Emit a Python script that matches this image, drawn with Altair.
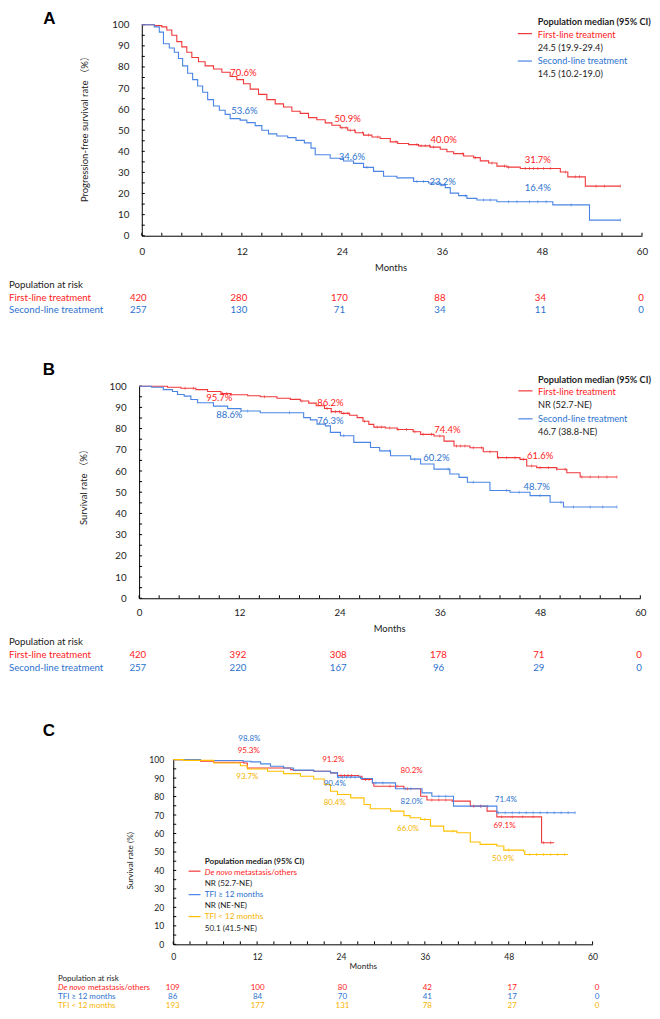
import altair as alt
import pandas as pd

# ------------------------------------------------------------------
# DATA
# ------------------------------------------------------------------
MONTH_TICKS = [0, 12, 24, 36, 48, 60]
PCT_TICKS = [0, 10, 20, 30, 40, 50, 60, 70, 80, 90, 100]
RISK_MONTHS = [0, 12, 24, 36, 48, 60]

# Panel A : progression-free survival
A_first_t = [0, 1.5, 2.4, 3.0, 3.6, 4.2, 4.8, 5.4, 6.0, 6.8, 7.6, 8.6, 9.6, 10.6, 11.4, 12.2, 13.0, 14.0, 15.0, 16.0,
             17.0, 18.0, 19.0, 20.0, 21.0, 22.0, 22.8, 23.8, 24.7, 25.6, 26.6, 27.6, 28.6, 29.8, 30.7, 32.0, 33.2, 34.6,
             35.8, 36.6, 37.4, 38.6, 39.8, 40.6, 41.6, 42.6, 43.8, 45.4, 50.2, 51.1, 53.2, 57.4]
A_first_s = [100, 99.6, 99.0, 97.5, 95.0, 92.0, 89.5, 87.0, 84.5, 82.5, 80.5, 79.0, 77.5, 75.5, 74.0, 72.0, 69.5, 67.0,
             64.5, 62.5, 61.0, 59.0, 58.0, 56.0, 55.0, 53.5, 52.4, 51.2, 50.0, 48.8, 47.7, 46.8, 46.1, 44.5, 43.7, 43.2,
             42.6, 42.0, 41.0, 39.8, 38.9, 37.8, 37.0, 35.5, 34.5, 33.0, 32.5, 31.9, 30.2, 27.9, 23.5, 23.5]
A_second_t = [0, 1.5, 2.1, 2.6, 3.3, 3.9, 4.4, 4.9, 5.5, 6.1, 6.7, 7.3, 7.9, 8.6, 9.3, 10.0, 10.6, 11.8, 12.6, 13.6,
              14.4, 15.2, 16.2, 17.5, 18.5, 19.5, 20.3, 20.8, 22.6, 24.2, 25.4, 26.6, 27.8, 29.0, 30.6, 32.6, 34.4,
              35.8, 36.4, 37.0, 38.0, 39.0, 40.2, 42.6, 49.3, 53.7, 57.4]
A_second_s = [100, 99.0, 96.5, 91.0, 89.0, 87.0, 84.0, 80.5, 77.0, 74.0, 71.0, 68.0, 64.5, 61.5, 59.5, 57.5, 55.5, 54.8,
              53.6, 52.2, 50.0, 48.3, 47.3, 46.5, 45.2, 44.0, 41.5, 38.4, 36.7, 35.4, 34.3, 32.4, 30.5, 28.2, 27.4,
              25.7, 25.0, 24.0, 22.8, 20.2, 19.0, 17.7, 16.9, 16.1, 14.6, 7.4, 7.4]
A_first_cens = [24.0, 24.5, 25.0, 25.5, 26.5, 27.2, 28.3, 30.5, 33.0, 33.5, 34.0, 34.5, 35.0, 38.5, 40.0, 42.0, 43.5,
                44.0, 46.0, 46.5, 47.0, 47.5, 48.2, 49.0, 50.8, 52.0, 52.5, 54.5, 55.5, 57.4]
A_second_cens = [27.0, 33.0, 33.8, 36.0, 38.8, 41.0, 41.8, 44.0, 45.0, 46.5, 47.5, 48.5, 51.5, 57.4]
A_pct_text = ["70.6%", "53.6%", "50.9%", "34.6%", "40.0%", "23.2%", "31.7%", "16.4%"]
A_pct_series = [0, 1, 0, 1, 0, 1, 0, 1]
A_median = ["24.5 (19.9-29.4)", "14.5 (10.2-19.0)"]
A_names = ["First-line treatment", "Second-line treatment"]
A_risk_first = [420, 280, 170, 88, 34, 0]
A_risk_second = [257, 130, 71, 34, 11, 0]

# Panel B : overall survival
B_first_t = [0, 3.4, 5.0, 6.8, 8.2, 9.8, 11.0, 13.0, 14.5, 16.5, 18.1, 19.3, 20.3, 21.2, 22.2, 23.0, 24.2, 25.2, 26.1,
             26.8, 27.5, 28.1, 29.5, 30.9, 32.8, 33.7, 35.3, 36.5, 37.7, 39.6, 41.2, 42.9, 45.6, 46.4, 47.6, 50.0,
             51.2, 52.8, 57.2]
B_first_s = [100, 99.5, 99.0, 98.4, 97.5, 96.5, 96.0, 95.5, 95.0, 94.3, 93.8, 93.0, 92.0, 90.8, 89.5, 88.0, 87.2, 86.3,
             85.2, 83.5, 82.0, 80.7, 80.3, 79.6, 78.5, 77.3, 76.5, 74.1, 71.8, 71.0, 69.1, 66.3, 65.5, 62.4, 61.6,
             60.8, 59.2, 57.2, 57.2]
B_second_t = [0, 1.5, 2.9, 4.0, 4.6, 5.4, 6.2, 7.0, 8.9, 10.6, 12.2, 14.5, 18.5, 19.7, 20.5, 21.3, 22.3, 22.9, 24.1,
              25.7, 27.7, 28.8, 30.1, 32.5, 33.7, 35.3, 37.2, 38.3, 39.3, 42.0, 44.4, 46.8, 49.2, 50.8, 57.2]
B_second_s = [100, 99.5, 98.4, 97.5, 96.1, 95.3, 93.7, 92.2, 90.6, 89.4, 88.3, 87.5, 87.5, 85.2, 84.1, 82.1, 81.3,
              78.2, 76.6, 73.5, 71.1, 69.5, 67.2, 65.6, 63.3, 60.9, 58.6, 57.0, 54.7, 50.8, 50.0, 48.4, 45.3, 43.0, 43.0]
B_first_cens = [5.5, 6.5, 10.0, 10.5, 11.0, 15.0, 19.5, 22.5, 23.0, 23.5, 24.0, 24.5, 25.0, 27.0, 28.5, 29.0, 30.0,
                31.0, 32.0, 33.0, 34.0, 35.0, 36.0, 38.0, 38.5, 39.0, 40.0, 41.0, 42.0, 43.0, 44.0, 45.0, 46.0, 47.0,
                48.0, 49.0, 50.0, 51.0, 53.0, 54.0, 55.0, 56.0, 57.2]
B_second_cens = [13.0, 18.0, 24.5, 30.0, 33.0, 37.0, 40.0, 44.0, 45.5, 48.0, 50.5, 52.0, 54.0, 55.5, 57.2]
B_pct_text = ["95.7%", "88.6%", "86.2%", "76.3%", "74.4%", "60.2%", "61.6%", "48.7%"]
B_pct_series = [0, 1, 0, 1, 0, 1, 0, 1]
B_median = ["NR (52.7-NE)", "46.7 (38.8-NE)"]
B_risk_first = [420, 392, 308, 178, 71, 0]
B_risk_second = [257, 220, 167, 96, 29, 0]

# Panel C : overall survival by subgroup
C_names = ["De novo metastasis/others", "TFI \u2265 12 months", "TFI < 12 months"]
C_denovo_t = [0, 3.9, 5.8, 10.1, 10.6, 16.8, 17.2, 20.1, 22.5, 23.5, 26.5, 27.0, 28.5, 28.7, 33.0, 35.4, 36.3, 39.9,
              42.5, 44.9, 46.3, 52.7, 54.5]
C_denovo_s = [100, 99.1, 98.6, 98.2, 95.5, 94.6, 94.1, 93.7, 92.8, 91.4, 91.0, 89.2, 87.4, 85.6, 84.2, 80.2, 78.1,
              77.5, 74.8, 72.1, 69.0, 55.0, 55.0]
C_tfi_ge_t = [0, 3.9, 10.0, 11.1, 12.5, 13.9, 15.8, 17.2, 20.1, 22.5, 23.5, 26.8, 28.5, 31.8, 35.6, 37.0, 40.1, 46.3, 57.5]
C_tfi_ge_s = [100, 99.5, 99.1, 98.8, 97.7, 96.4, 95.5, 94.3, 93.7, 92.8, 90.5, 89.8, 87.4, 84.2, 82.0, 80.2, 74.8,
              71.2, 71.2]
C_tfi_lt_t = [0, 1.5, 5.8, 9.6, 10.6, 13.5, 15.8, 18.2, 20.1, 21.6, 22.5, 23.5, 25.4, 27.3, 28.2, 31.1, 33.0, 33.9,
              35.4, 36.8, 38.7, 40.6, 42.5, 43.9, 46.3, 47.3, 50.1, 50.3, 56.5]
C_tfi_lt_s = [100, 99.6, 98.2, 96.7, 94.9, 93.7, 92.4, 91.0, 89.5, 86.5, 82.9, 81.1, 79.3, 75.7, 73.4, 72.1, 69.7,
              68.5, 67.6, 64.0, 61.3, 60.4, 55.4, 54.1, 53.2, 51.0, 50.5, 48.6, 48.6]
C_denovo_cens = [24.0, 24.5, 25.0, 25.5, 27.5, 28.0, 31.0, 32.0, 33.5, 37.0, 38.0, 39.0, 43.0, 44.0, 47.0, 48.5, 50.0,
                 51.5, 53.0, 54.0]
C_tfi_ge_cens = [23.6, 24.2, 24.8, 25.4, 26.0, 27.0, 29.0, 30.0, 33.2, 34.0, 38.0, 39.0, 44.0, 45.0, 46.5, 47.5, 48.5,
                 49.5, 50.5, 51.5, 52.5, 53.5, 54.5, 55.5, 56.5, 57.5]
C_tfi_lt_cens = [36.0, 40.0, 48.0, 51.0, 52.0, 53.0, 54.0, 55.0, 56.0]
C_pct_text = ["98.8%", "95.3%", "93.7%", "91.2%", "90.4%", "80.4%", "80.2%", "82.0%", "66.0%", "71.4%", "69.1%",
              "50.9%"]
C_pct_series = [1, 0, 2, 0, 1, 2, 0, 1, 2, 1, 0, 2]
C_median = ["NR (52.7-NE)", "NR (NE-NE)", "50.1 (41.5-NE)"]
C_risk_denovo = [109, 100, 80, 42, 17, 0]
C_risk_tfi_ge = [86, 84, 70, 41, 17, 0]
C_risk_tfi_lt = [193, 177, 131, 78, 27, 0]

# ------------------------------------------------------------------
# STYLE / LAYOUT
# ------------------------------------------------------------------
FONT = "Lato, 'Noto Sans CJK SC', sans-serif"
LETTER_FONT = "'Liberation Sans', Arial, sans-serif"
DARK = "#1c1c1c"
RED_LINE, RED_TEXT = "#F0393B", "#FF1A1A"
BLUE_LINE, BLUE_TEXT = "#4A85E3", "#2C72CE"
GOLD_LINE, GOLD_TEXT = "#FFC000", "#F5B400"

# label positions (months, % units)
A_pct_x = [12.2, 12.3, 24.7, 25.2, 36.2, 36.1, 47.5, 47.5]
A_pct_y = [77.1, 59.1, 55.4, 37.4, 45.5, 25.6, 36.0, 22.7]
B_pct_x = [9.6, 10.8, 22.9, 22.9, 36.9, 35.6, 48.0, 47.6]
B_pct_y = [94.2, 86.3, 92.2, 83.5, 79.4, 66.2, 67.2, 52.6]
C_pct_x = [10.9, 10.8, 10.6, 22.9, 23.1, 23.1, 34.1, 34.1, 33.6, 47.6, 47.4, 47.2]
C_pct_y = [111.2, 104.7, 90.6, 100.0, 86.9, 76.6, 93.9, 77.1, 62.5, 78.2, 64.2, 46.3]


def step_at(ts, ss, t):
    v = ss[0]
    for a, b in zip(ts, ss):
        if a <= t:
            v = b
    return v


def km_panel(P):
    ox, w, h = P["ox"], P["w"], P["h"]
    xs = alt.Scale(domain=[0, 60], range=[ox, ox + w], nice=False, zero=False)
    ys = alt.Scale(domain=[0, 100], nice=False, zero=False)
    common = dict(ticks=False, tickSize=0, grid=False, domainColor="#000000", domainWidth=1,
                  labelFont=FONT, labelFontSize=P["tick_fs"], labelColor=DARK,
                  labelFlush=False, labelOverlap=False, labelBound=False, title=None)
    ax = alt.Axis(values=MONTH_TICKS, labelPadding=P["xlab_pad"], **common)
    ay = alt.Axis(values=PCT_TICKS, labelPadding=P["ylab_pad"], offset=-ox, **common)

    def X(f):
        return alt.X(f, type="quantitative", scale=xs, axis=ax)

    def Y(f):
        return alt.Y(f, type="quantitative", scale=ys, axis=ay)

    col = alt.Color("col:N", scale=None)

    rows, cens = [], []
    for name, ts, ss, c, cz in P["curves"]:
        for t, s in zip(ts, ss):
            rows.append({"grp": name, "month": t, "surv": s, "col": c})
        for t in cz:
            cens.append({"grp": name, "month": t, "surv": step_at(ts, ss, t), "col": c})
    curves = alt.Chart(pd.DataFrame(rows)).mark_line(interpolate="step-after", strokeWidth=1.1).encode(
        x=X("month"), y=Y("surv"), color=col, detail="grp:N")
    censor = alt.Chart(pd.DataFrame(cens)).mark_tick(orient="vertical", size=3, thickness=0.9).encode(
        x=X("month"), y=Y("surv"), color=col)

    trows = [{"x": i * 2.4, "x2": i * 2.4, "y": 0, "y2": P["xtick_len"]} for i in range(26)]
    trows += [{"x": 0, "x2": P["ytick_len"], "y": v, "y2": v} for v in range(0, 101, 5)]
    ticks = alt.Chart(pd.DataFrame(trows)).mark_rule(color="#000000", strokeWidth=1).encode(
        x=X("x"), x2="x2:Q", y=Y("y"), y2="y2:Q")

    pdf = pd.DataFrame({"month": P["pct_x"], "surv": P["pct_y"], "txt": P["pct_text"],
                        "col": [P["text_colors"][i] for i in P["pct_series"]]})
    pct = alt.Chart(pdf).mark_text(font=FONT, fontSize=P["pct_fs"], align="center", baseline="middle").encode(
        x=X("month"), y=Y("surv"), text="txt:N", color=col)

    L = P["legend"]
    leg_title = alt.Chart(pd.DataFrame({"month": [L["x"]], "surv": [L["title_y"]],
                                        "txt": ["Population median (95% CI)"]})).mark_text(
        font=FONT, fontSize=P["leg_fs"], fontWeight="bold", align="left", baseline="middle", color=DARK).encode(
        x=X("month"), y=Y("surv"), text="txt:N")
    items = pd.DataFrame(L["items"], columns=["month", "surv", "txt", "col"])
    leg_items = alt.Chart(items).mark_text(font=FONT, fontSize=P["leg_fs"], align="left", baseline="middle").encode(
        x=X("month"), y=Y("surv"), text="txt:N", color=col)
    lines = pd.DataFrame(L["lines"], columns=["x", "x2", "y", "col"])
    leg_lines = alt.Chart(lines).mark_rule(strokeWidth=1.2).encode(x=X("x"), x2="x2:Q", y=Y("y"), color=col)
    layers = [ticks, curves, censor, pct, leg_title, leg_items, leg_lines]
    if L.get("italic"):
        it = pd.DataFrame(L["italic"], columns=["month", "surv", "txt", "col"])
        layers.append(alt.Chart(it).mark_text(font=FONT, fontSize=P["leg_fs"], fontStyle="italic", align="left",
                                              baseline="middle").encode(
            x=X("month"), y=Y("surv"), text="txt:N", color=col))

    letter = alt.Chart(pd.DataFrame({"month": [P["letter"][1]], "surv": [P["letter"][2]],
                                     "txt": [P["letter"][0]]})).mark_text(
        font=LETTER_FONT, fontSize=P["letter_fs"], fontWeight="bold", align="center",
        baseline=P["letter"][3], color="#000000").encode(x=X("month"), y=Y("surv"), text="txt:N")
    ytitle = alt.Chart(pd.DataFrame({"month": [P["ytitle"][1]], "surv": [P["ytitle"][2]],
                                     "txt": [P["ytitle"][0]]})).mark_text(
        font=FONT, fontSize=P["title_fs"], angle=270, align="center", baseline="middle", color=DARK).encode(
        x=X("month"), y=Y("surv"), text="txt:N")
    xtitle = alt.Chart(pd.DataFrame({"month": [P["xtitle"][0]], "surv": [P["xtitle"][1]],
                                     "txt": ["Months"]})).mark_text(
        font=FONT, fontSize=P["title_fs"], align="center", baseline="middle", color=DARK).encode(
        x=X("month"), y=Y("surv"), text="txt:N")
    layers += [letter, ytitle, xtitle]
    return alt.layer(*layers).properties(width=ox + w, height=h)


def risk_table(R):
    x0, x1 = R["x0"], R["x1"]
    n = len(R["rows"])
    xs = alt.Scale(domain=[0, 60], range=[x0, x1], nice=False, zero=False)
    ys = alt.Scale(domain=[0, n], range=[R["y0"], R["y0"] + R["dy"] * n], nice=False, zero=False)

    def X(f):
        return alt.X(f, type="quantitative", scale=xs, axis=None)

    def Y(f):
        return alt.Y(f, type="quantitative", scale=ys, axis=None)

    def px2m(px):
        return (px - x0) * 60.0 / (x1 - x0)

    col = alt.Color("col:N", scale=None)
    labels = [{"month": px2m(R["label_px"]), "row": 0, "txt": "Population at risk", "col": DARK}]
    italics = []
    nums = []
    for i, (parts, values, c) in enumerate(R["rows"], start=1):
        for (txt, px, style) in parts:
            rec = {"month": px2m(px), "row": i, "txt": txt, "col": c}
            (italics if style == "italic" else labels).append(rec)
        for m, v in zip(RISK_MONTHS, values):
            nums.append({"month": m, "row": i, "txt": str(v), "col": c})
    lab = alt.Chart(pd.DataFrame(labels)).mark_text(font=FONT, fontSize=R["fs"], align="left",
                                                    baseline="middle").encode(
        x=X("month"), y=Y("row"), text="txt:N", color=col)
    num = alt.Chart(pd.DataFrame(nums)).mark_text(font=FONT, fontSize=R["fs"], align="center",
                                                  baseline="middle").encode(
        x=X("month"), y=Y("row"), text="txt:N", color=col)
    layers = [lab, num]
    if italics:
        layers.append(alt.Chart(pd.DataFrame(italics)).mark_text(font=FONT, fontSize=R["fs"], fontStyle="italic",
                                                                 align="left", baseline="middle").encode(
            x=X("month"), y=Y("row"), text="txt:N", color=col))
    return alt.layer(*layers).properties(width=R["w"], height=R["h"])


A_colors_t = [RED_TEXT, BLUE_TEXT]

panelA = km_panel(dict(
    ox=0, w=501, h=211.3, tick_fs=9.8, xlab_pad=11, ylab_pad=13, pct_fs=9.5, leg_fs=9.2, title_fs=9.5,
    letter_fs=17, xtick_len=1.4, ytick_len=0.36,
    curves=[(A_names[0], A_first_t, A_first_s, RED_LINE, A_first_cens),
            (A_names[1], A_second_t, A_second_s, BLUE_LINE, A_second_cens)],
    pct_x=A_pct_x, pct_y=A_pct_y, pct_text=A_pct_text, pct_series=A_pct_series, text_colors=A_colors_t,
    legend=dict(x=47.5, title_y=101.3,
                items=[(47.5, 95.1, A_names[0], RED_TEXT), (47.5, 89.0, A_median[0], DARK),
                       (47.5, 82.8, A_names[1], BLUE_TEXT), (47.5, 76.7, A_median[1], DARK)],
                lines=[(45.1, 46.8, 95.8, RED_LINE), (45.1, 46.8, 82.8, BLUE_LINE)]),
    letter=("A", -11.1, 106.48, "top"),
    ytitle=("Progression-free survival rate \uff08%\uff09", -6.8, 51.6),
    xtitle=(29.9, -15.1),
))

riskA = risk_table(dict(
    x0=-3.5, x1=500, y0=49, dy=12.5, w=501, h=149.3, fs=9.7, label_px=-133,
    rows=[([(A_names[0], -133, "normal")], A_risk_first, RED_TEXT),
          ([(A_names[1], -133, "normal")], A_risk_second, BLUE_TEXT)],
))

panelB = km_panel(dict(
    ox=-2.7, w=502, h=212.4, tick_fs=9.8, xlab_pad=9.5, ylab_pad=13, pct_fs=9.5, leg_fs=9.2, title_fs=9.5,
    letter_fs=17, xtick_len=1.4, ytick_len=0.36,
    curves=[(A_names[0], B_first_t, B_first_s, RED_LINE, B_first_cens),
            (A_names[1], B_second_t, B_second_s, BLUE_LINE, B_second_cens)],
    pct_x=B_pct_x, pct_y=B_pct_y, pct_text=B_pct_text, pct_series=B_pct_series, text_colors=A_colors_t,
    legend=dict(x=47.75, title_y=103.0,
                items=[(47.75, 97.3, A_names[0], RED_TEXT), (47.75, 91.2, B_median[0], DARK),
                       (47.75, 84.6, A_names[1], BLUE_TEXT), (47.75, 78.5, B_median[1], DARK)],
                lines=[(45.4, 47.1, 97.8, RED_LINE), (45.4, 47.1, 84.6, BLUE_LINE)]),
    letter=("B", -10.8, 107.7, "middle"),
    ytitle=("Survival rate \uff08%\uff09", -6.6, 53.5),
    xtitle=(30.0, -14.6),
))

riskB = risk_table(dict(
    x0=-4, x1=498, y0=43.6, dy=12.7, w=501, h=161, fs=9.7, label_px=-133,
    rows=[([(A_names[0], -133, "normal")], B_risk_first, RED_TEXT),
          ([(A_names[1], -133, "normal")], B_risk_second, BLUE_TEXT)],
))

C_colors_t = [RED_TEXT, BLUE_TEXT, GOLD_TEXT]

panelC = km_panel(dict(
    ox=31.5, w=420, h=185, tick_fs=8.6, xlab_pad=8, ylab_pad=9.5, pct_fs=8.0, leg_fs=8.1, title_fs=8.2,
    letter_fs=17, xtick_len=1.6, ytick_len=0.43,
    curves=[(C_names[0], C_denovo_t, C_denovo_s, RED_LINE, C_denovo_cens),
            (C_names[1], C_tfi_ge_t, C_tfi_ge_s, BLUE_LINE, C_tfi_ge_cens),
            (C_names[2], C_tfi_lt_t, C_tfi_lt_s, GOLD_LINE, C_tfi_lt_cens)],
    pct_x=C_pct_x, pct_y=C_pct_y, pct_text=C_pct_text, pct_series=C_pct_series, text_colors=C_colors_t,
    legend=dict(x=4.5, title_y=44.7,
                items=[(8.7, 38.8, "metastasis/others", RED_TEXT), (4.5, 32.8, C_median[0], DARK),
                       (4.5, 26.9, C_names[1], BLUE_TEXT), (4.5, 20.9, C_median[1], DARK),
                       (4.5, 15.0, C_names[2], GOLD_TEXT), (4.5, 8.5, C_median[2], DARK)],
                italic=[(4.5, 38.8, "De novo", RED_TEXT)],
                lines=[(2.2, 3.9, 39.6, RED_LINE), (2.2, 3.9, 26.9, BLUE_LINE), (2.2, 3.9, 15.0, GOLD_LINE)]),
    letter=("C", -17.8, 115.5, "middle"),
    ytitle=("Survival rate (%)", -6.1, 45.2),
    xtitle=(27.2, -12.05),
))

riskC = risk_table(dict(
    x0=31, x1=456, y0=35.0, dy=9.0, w=456, h=62, fs=8.0, label_px=-84,
    rows=[([("De novo", -84, "italic"), ("metastasis/others", -54, "normal")], C_risk_denovo, RED_TEXT),
          ([(C_names[1], -84, "normal")], C_risk_tfi_ge, BLUE_TEXT),
          ([(C_names[2], -84, "normal")], C_risk_tfi_lt, GOLD_TEXT)],
))

chart = alt.vconcat(panelA, riskA, panelB, riskB, panelC, riskC, spacing=0, bounds="flush").properties(
    padding=0).configure_view(stroke="transparent")

chart.save("out.html", embed_options={"renderer": "svg", "actions": False})
